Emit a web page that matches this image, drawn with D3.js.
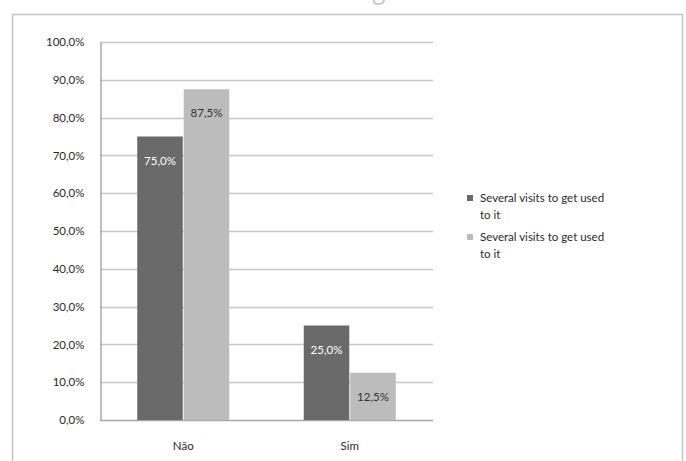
<!DOCTYPE html>
<html>
<head>
<meta charset="utf-8">
<script src="https://cdn.jsdelivr.net/npm/d3@7"></script>
<style>
  body { margin: 0; background: #fff; }
  svg { display: block; font-family: Lato, "Open Sans", sans-serif; }
</style>
</head>
<body>
<div id="chart"></div>
<script>
const categories = ["Não", "Sim"];
const seriesNames = ["Several visits to get used to it", "Several visits to get used to it"];
const seriesA = [75.0, 25.0];
const seriesB = [87.5, 12.5];
const yTicks = [0, 10, 20, 30, 40, 50, 60, 70, 80, 90, 100];
const chartTitle = "Several visits to get used to it";

const width = 686;
const height = 461;
const plot = { left: 100, right: 433, top: 42, bottom: 420 };
const colors = ["#6a6a6a", "#bcbcbc"];
const labelColors = ["#ffffff", "#333333"];

const fmt = (v) => v.toFixed(1).replace(".", ",") + "%";

const svg = d3
  .select("#chart")
  .append("svg")
  .attr("width", width)
  .attr("height", height);

// outer frame, cut by the window
svg
  .append("rect")
  .attr("x", 12.5)
  .attr("y", 14.5)
  .attr("width", 670)
  .attr("height", 470)
  .attr("fill", "none")
  .attr("stroke", "#c4c4c4")
  .attr("stroke-width", 1.5);

// title, almost all above the window as in the source
svg
  .append("text")
  .attr("x", 355)
  .attr("y", 0)
  .attr("text-anchor", "middle")
  .attr("font-size", "26px")
  .attr("fill", "#c8c8c8")
  .text(chartTitle);

const x = d3
  .scaleBand()
  .domain(categories)
  .range([plot.left, plot.right])
  .paddingInner(0)
  .paddingOuter(0);

const y = d3.scaleLinear().domain([0, 100]).range([plot.bottom, plot.top]);

// gridlines
svg
  .append("g")
  .selectAll("line")
  .data(yTicks)
  .enter()
  .append("line")
  .attr("x1", plot.left)
  .attr("x2", plot.right)
  .attr("y1", (d) => Math.round(y(d)) + 0.5)
  .attr("y2", (d) => Math.round(y(d)) + 0.5)
  .attr("stroke", (d) => (d === 0 ? "#a8a8a8" : "#c8c8c8"))
  .attr("stroke-width", 1.5);

// y axis
const yAxis = d3
  .axisLeft(y)
  .tickValues(yTicks)
  .tickSize(0)
  .tickPadding(16)
  .tickFormat(fmt);

svg
  .append("g")
  .attr("transform", `translate(${plot.left + 0.5},0)`)
  .call(yAxis)
  .call((g) => g.select(".domain").attr("stroke", "#a8a8a8").attr("stroke-width", 1.5))
  .call((g) =>
    g.selectAll("text").attr("font-size", "11.5px").attr("fill", "#2a2a2a").attr("font-family", "Lato, sans-serif")
  );

// x axis labels
const xAxis = d3.axisBottom(x).tickSize(0).tickPadding(22);
svg
  .append("g")
  .attr("transform", `translate(0,${plot.bottom})`)
  .call(xAxis)
  .call((g) => g.select(".domain").remove())
  .call((g) =>
    g.selectAll("text").attr("font-size", "11.5px").attr("fill", "#2a2a2a").attr("font-family", "Lato, sans-serif")
  );

const inner = d3
  .scaleBand()
  .domain([0, 1])
  .range([0, 92])
  .paddingInner(0.02);

const series = [seriesA, seriesB];
const bars = svg.append("g");

series.forEach((values, si) => {
  const g = bars.append("g");
  g.selectAll("rect")
    .data(values)
    .enter()
    .append("rect")
    .attr("x", (d, i) => x(categories[i]) + x.bandwidth() / 2 - 46 + inner(si))
    .attr("y", (d) => y(d))
    .attr("width", inner.bandwidth())
    .attr("height", (d) => y(0) - y(d))
    .attr("fill", colors[si]);

  g.selectAll("text")
    .data(values)
    .enter()
    .append("text")
    .attr("x", (d, i) => x(categories[i]) + x.bandwidth() / 2 - 46 + inner(si) + inner.bandwidth() / 2)
    .attr("y", (d) => y(d) + 28)
    .attr("text-anchor", "middle")
    .attr("font-size", "11.5px")
    .attr("fill", labelColors[si])
    .text((d) => fmt(d));
});

// legend
const legend = svg
  .append("g")
  .attr("transform", "translate(467,0)");

seriesNames.forEach((name, i) => {
  const top = 193 + i * 39;
  legend
    .append("rect")
    .attr("x", 0)
    .attr("y", top + 2)
    .attr("width", 6)
    .attr("height", 6)
    .attr("fill", colors[i]);
  const t = legend
    .append("text")
    .attr("x", 13)
    .attr("y", top + 9)
    .attr("font-size", "11.5px")
    .attr("fill", "#2a2a2a");
  t.append("tspan").attr("x", 13).text("Several visits to get used");
  t.append("tspan").attr("x", 13).attr("dy", 17).text("to it");
});
</script>
</body>
</html>
